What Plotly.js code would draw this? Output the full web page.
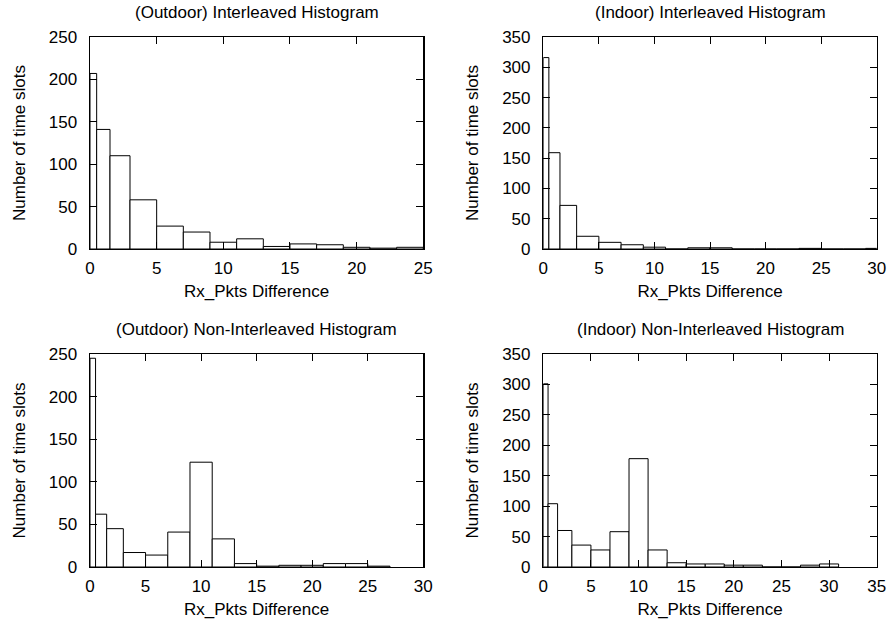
<!DOCTYPE html>
<html>
<head>
<meta charset="utf-8">
<script src="https://cdn.plot.ly/plotly-3.0.1.min.js"></script>
<style>html,body{margin:0;padding:0;background:#fff;}#chart{width:892px;height:623px;}</style>
</head>
<body>
<div id="chart"></div>
<script>
// ---- data (bin edges and counts) ----
const outdoorInterleavedEdges = [0, 0.5, 1.5, 3, 5, 7, 9, 11, 13, 15, 17, 19, 21, 23, 25];
const outdoorInterleavedCounts = [207, 141, 110, 58, 27, 20, 8, 12, 3, 6, 5, 2, 1, 2];

const indoorInterleavedEdges = [0, 0.5, 1.5, 3, 5, 7, 9, 11, 13, 15, 17, 19, 21, 23, 25, 27, 29, 31];
const indoorInterleavedCounts = [316, 159, 72, 21, 11, 7, 3, 0, 2, 2, 0, 0, 0, 1, 0, 0, 1];

const outdoorNonInterleavedEdges = [0, 0.5, 1.5, 3, 5, 7, 9, 11, 13, 15, 17, 19, 21, 23, 25, 27];
const outdoorNonInterleavedCounts = [245, 62, 45, 17, 14, 41, 123, 33, 4, 1, 2, 2, 4, 4, 1];

const indoorNonInterleavedEdges = [0, 0.5, 1.5, 3, 5, 7, 9, 11, 13, 15, 17, 19, 21, 23, 25, 27, 29, 31];
const indoorNonInterleavedCounts = [301, 104, 60, 36, 28, 58, 178, 28, 7, 5, 5, 3, 3, 0, 0, 3, 5];

const panelTitles = [
  "(Outdoor) Interleaved Histogram",
  "(Indoor) Interleaved Histogram",
  "(Outdoor) Non-Interleaved Histogram",
  "(Indoor) Non-Interleaved Histogram"
];
const xTitle = "Rx_Pkts Difference";
const yTitle = "Number of time slots";
const xMax = [25, 30, 30, 35];
const yMax = [250, 350, 250, 350];

// ---- layout helpers ----
const W = 892, H = 623;
const font = {family: "Liberation Sans, Arial, Helvetica, sans-serif", size: 17, color: "#000"};
const boxes = [
  {l: 90, r: 423.3, t: 37, b: 249},
  {l: 543.3, r: 876.7, t: 37, b: 249},
  {l: 90, r: 423.3, t: 354, b: 567},
  {l: 543.3, r: 876.7, t: 354, b: 567}
];
const sets = [
  [outdoorInterleavedEdges, outdoorInterleavedCounts],
  [indoorInterleavedEdges, indoorInterleavedCounts],
  [outdoorNonInterleavedEdges, outdoorNonInterleavedCounts],
  [indoorNonInterleavedEdges, indoorNonInterleavedCounts]
];

const traces = [];
const layout = {
  width: W, height: H,
  margin: {l: 0, r: 0, t: 0, b: 0},
  paper_bgcolor: "#fff", plot_bgcolor: "#fff",
  showlegend: false,
  font: font,
  bargap: 0,
  annotations: []
};

sets.forEach(([edges, counts], i) => {
  const n = i + 1;
  const xs = [], ws = [];
  for (let k = 0; k < counts.length; k++) {
    xs.push((edges[k] + edges[k + 1]) / 2);
    ws.push(edges[k + 1] - edges[k]);
  }
  traces.push({
    type: "bar",
    x: xs, y: counts, width: ws,
    xaxis: "x" + (n === 1 ? "" : n),
    yaxis: "y" + (n === 1 ? "" : n),
    marker: {color: "#fff", line: {color: "#000", width: 1}},
    hoverinfo: "x+y"
  });
  const b = boxes[i];
  const common = {
    showline: true, linecolor: "#000", linewidth: 1.4,
    mirror: "ticks", ticks: "inside", ticklen: 7, tickwidth: 1, tickcolor: "#000",
    showgrid: false, zeroline: false, automargin: false,
    tickfont: font
  };
  layout["xaxis" + (n === 1 ? "" : n)] = Object.assign({}, common, {
    domain: [b.l / W, b.r / W],
    anchor: "y" + (n === 1 ? "" : n),
    range: [0, xMax[i]], dtick: 5, tick0: 0,
    ticklabelstandoff: 3,
    title: {text: xTitle, font: font, standoff: 8}
  });
  layout["yaxis" + (n === 1 ? "" : n)] = Object.assign({}, common, {
    domain: [1 - b.b / H, 1 - b.t / H],
    anchor: "x" + (n === 1 ? "" : n),
    range: [0, yMax[i]], dtick: 50, tick0: 0,
    ticklabelstandoff: 8,
    title: {text: yTitle, font: font, standoff: 19}
  });
  layout.annotations.push({
    text: panelTitles[i], showarrow: false,
    xref: "paper", yref: "paper",
    x: (b.l + b.r) / 2 / W, y: 1 - (b.t - 24.5) / H,
    xanchor: "center", yanchor: "middle", font: font
  });
});

Plotly.newPlot("chart", traces, layout, {staticPlot: true});
</script>
</body>
</html>
